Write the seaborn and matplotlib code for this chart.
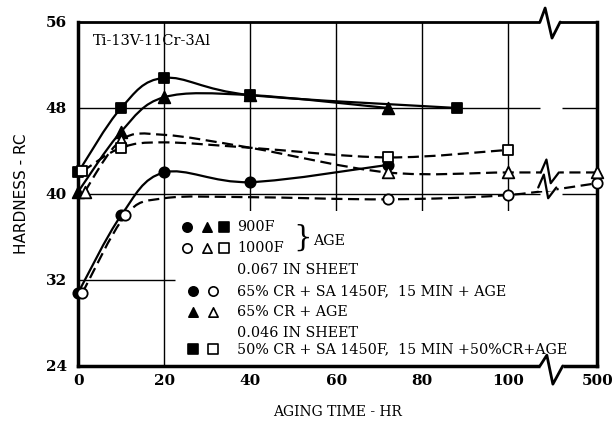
import numpy as np
import matplotlib
matplotlib.use('Agg')
import matplotlib.pyplot as plt
import seaborn as sns
from matplotlib.path import Path
from matplotlib.patches import PathPatch, Rectangle

# hardness (RC), aging time in hours
fc_hr = [0, 10, 20, 40, 72]                 # filled circle, 900F, 0.067 in, 65% CR + SA
fc_rc = [30.8, 38.0, 42.0, 41.1, 42.7]
oc_hr = [1, 11, 20, 40, 72, 100, 500]       # open circle, 1000F
oc_rc = [30.8, 38.0, 39.6, 39.7, 39.5, 39.9, 41.0]
oc_mark = [1, 1, 0, 0, 1, 1, 1]
ft_hr = [0, 10, 20, 40, 72]                 # filled triangle, 900F, 65% CR + age
ft_rc = [40.2, 45.8, 49.0, 49.2, 48.0]
ot_hr = [1.5, 10, 20, 40, 72, 100, 500]     # open triangle, 1000F
ot_rc = [40.2, 45.0, 45.5, 44.3, 42.0, 42.0, 42.0]
ot_mark = [1, 1, 0, 0, 1, 1, 1]
fs_hr = [0, 10, 20, 40, 88]                 # filled square, 900F, 0.046 in
fs_rc = [42.0, 48.0, 50.8, 49.2, 48.0]
os_hr = [1, 10, 20, 40, 72, 100]            # open square, 1000F
os_rc = [42.1, 44.3, 44.8, 44.3, 43.4, 44.1]
os_mark = [1, 1, 0, 0, 1, 1]

x_ticks = [0, 20, 40, 60, 80, 100, 500]
y_ticks = [24, 32, 40, 48, 56]

BREAK_POS = 120.7   # where 500 hr sits on the broken axis


def pos(hours):
    return np.array([h if h <= 100 else BREAK_POS for h in hours], dtype=float)


def smooth_line(ax, x, y, ls):
    pts = np.column_stack([x, y])
    n = len(pts)
    verts = [pts[0]]
    codes = [Path.MOVETO]
    for i in range(n - 1):
        p0, p1 = pts[max(i - 1, 0)], pts[i]
        p2, p3 = pts[i + 1], pts[min(i + 2, n - 1)]
        verts += [p1 + (p2 - p0) / 6, p2 - (p3 - p1) / 6, p2]
        codes += [Path.CURVE4] * 3
    ax.add_patch(PathPatch(Path(verts, codes), fill=False, lw=1.6,
                           ls=ls, edgecolor='black', zorder=3))


def zigzag(ax, x0, y0, dx, dy, lw=1.6):
    xs = [x0 + d for d in dx]
    ys = [y0 + d for d in dy]
    ax.plot([xs[0], xs[-1]], [y0, y0], color='white', lw=5, zorder=3.6,
            clip_on=False, solid_capstyle='butt')
    ax.plot(xs, ys, color='black', lw=lw, zorder=3.8, clip_on=False)


sns.set_style('white', {'text.color': 'black', 'axes.labelcolor': 'black',
                        'xtick.color': 'black', 'ytick.color': 'black'})
plt.rcParams['font.family'] = ['DejaVu Serif']

fig = plt.figure(figsize=(6.15, 4.23), dpi=100)
ax = fig.add_axes([0.127, 0.135, 0.844, 0.813])
ax.set_xlim(0, BREAK_POS)
ax.set_ylim(24, 56)

# grid, partly hidden behind the key
ax.axvline(20, color='black', lw=1, zorder=1)
for xv in [40, 60, 80, 100]:
    ax.axvline(xv, ymin=(38.4 - 24) / 32, color='black', lw=1, zorder=1)
ax.hlines([40, 48], 0, 107.5, color='black', lw=1, zorder=1)
ax.hlines([40, 48], 112.5, BREAK_POS, color='black', lw=1, zorder=1)
ax.hlines(32, 0, 22.5, color='black', lw=1, zorder=1)

# curves
smooth_line(ax, pos(fc_hr), fc_rc, '-')
smooth_line(ax, pos(ft_hr), ft_rc, '-')
smooth_line(ax, pos(fs_hr), fs_rc, '-')
smooth_line(ax, pos(oc_hr), oc_rc, (0, (5, 2.5)))
smooth_line(ax, pos(ot_hr), ot_rc, (0, (5, 2.5)))
smooth_line(ax, pos(os_hr), os_rc, (0, (5, 2.5)))

# markers
series = [
    (fc_hr, fc_rc, None, 'o', 'black', 55),
    (ft_hr, ft_rc, None, '^', 'black', 70),
    (fs_hr, fs_rc, None, 's', 'black', 55),
    (oc_hr, oc_rc, oc_mark, 'o', 'white', 55),
    (ot_hr, ot_rc, ot_mark, '^', 'white', 70),
    (os_hr, os_rc, os_mark, 's', 'white', 50),
]
for hr, rc, mark, m, fc, s in series:
    x = pos(hr)
    y = np.array(rc)
    if mark is not None:
        keep = np.array(mark, dtype=bool)
        x, y = x[keep], y[keep]
    sns.scatterplot(x=x, y=y, marker=m, s=s, color=fc, edgecolor='black',
                    linewidth=1.3, zorder=5, ax=ax, clip_on=False)

# axis breaks
zigzag(ax, 107.4, 56, [0, 1.2, 2.8, 4.7], [0, 1.3, -1.5, 0], lw=2)
zigzag(ax, 107.4, 24, [0, 1.6, 3.0, 5.3], [0, 1.0, -1.7, 0], lw=2)
zigzag(ax, 107.6, 42.0, [0, 1.3, 2.3, 4.2], [0, 1.2, -1.0, 0])
zigzag(ax, 107.0, 40.6, [0, 1.3, 2.3, 4.2], [0, 1.2, -1.0, 0])

# blank area for the key
ax.add_patch(Rectangle((0.19, 0.03), 0.79, 0.42, transform=ax.transAxes,
                       facecolor='white', edgecolor='none', zorder=1.5))

ax.text(0.029, 0.965, 'Ti-13V-11Cr-3Al', transform=ax.transAxes,
        fontsize=10.5, va='top', ha='left', zorder=6)

# key
tx = 0.306
key_fs = 10.3
rows = [
    (0.404, [(0.210, 'o', 'black'), (0.248, '^', 'black'), (0.281, 's', 'black')], '900F'),
    (0.343, [(0.210, 'o', 'white'), (0.248, '^', 'white'), (0.281, 's', 'white')], '1000F'),
    (0.279, [], '0.067 IN SHEET'),
    (0.218, [(0.222, 'o', 'black'), (0.260, 'o', 'white')], '65% CR + SA 1450F,  15 MIN + AGE'),
    (0.157, [(0.222, '^', 'black'), (0.260, '^', 'white')], '65% CR + AGE'),
    (0.096, [], '0.046 IN SHEET'),
    (0.049, [(0.222, 's', 'black'), (0.260, 's', 'white')], '50% CR + SA 1450F,  15 MIN +50%CR+AGE'),
]
for yk, marks, label in rows:
    for xk, m, fc in marks:
        ax.scatter([xk], [yk], marker=m, s=45, color=fc, edgecolor='black',
                   linewidth=1.2, transform=ax.transAxes, zorder=6)
    ax.text(tx, yk, label, transform=ax.transAxes, fontsize=key_fs,
            va='center', ha='left', zorder=6)
ax.text(0.414, 0.374, '}', transform=ax.transAxes, fontsize=21,
        va='center', ha='left', zorder=6)
ax.text(0.452, 0.364, 'AGE', transform=ax.transAxes, fontsize=key_fs,
        va='center', ha='left', zorder=6)

# axes look
ax.set_xticks(pos(x_ticks))
ax.set_xticklabels([str(t) for t in x_ticks])
ax.set_yticks(y_ticks)
ax.set_yticklabels([str(t) for t in y_ticks])
ax.tick_params(axis='x', direction='in', length=7, width=1, labelsize=11, pad=6,
               color='black', labelcolor='black')
ax.tick_params(axis='y', length=0, labelsize=11, pad=8, labelcolor='black')
for lab in ax.get_xticklabels() + ax.get_yticklabels():
    lab.set_fontweight('bold')
for side, w in [('left', 2.5), ('bottom', 2.5), ('right', 2.5), ('top', 2)]:
    ax.spines[side].set_linewidth(w)
    ax.spines[side].set_color('black')

ax.set_xlabel('AGING TIME - HR', fontsize=10, labelpad=12, color='black')
ax.set_ylabel('HARDNESS - RC', fontsize=11, labelpad=12, family='DejaVu Sans',
              color='black')

fig.savefig('out.png', dpi=100)
